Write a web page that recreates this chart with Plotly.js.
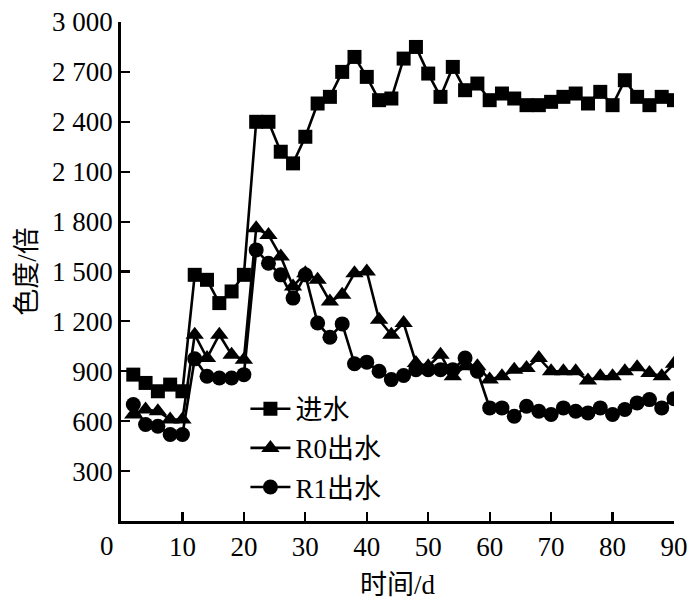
<!DOCTYPE html>
<html>
<head>
<meta charset="utf-8">
<script src="https://cdn.plot.ly/plotly-3.0.1.min.js"></script>
<style>html,body{margin:0;padding:0;background:#fff;}#chart{width:700px;height:601px;}</style>
</head>
<body>
<div id="chart"></div>
<script>
const days = [2,4,6,8,10,12,14,16,18,20,22,24,26,28,30,32,34,36,38,40,42,44,46,48,50,52,54,56,58,60,62,64,66,68,70,72,74,76,78,80,82,84,86,88,90];
const influent = [880,830,780,820,780,1480,1450,1310,1380,1480,2400,2400,2220,2150,2310,2510,2550,2700,2790,2670,2530,2540,2780,2850,2690,2550,2730,2590,2630,2530,2570,2540,2500,2500,2520,2550,2570,2510,2580,2500,2650,2550,2500,2550,2530];
const r0Effluent = [640,670,660,610,610,1120,980,1120,1000,970,1760,1720,1590,1410,1490,1450,1320,1360,1490,1500,1210,1120,1190,950,930,1000,870,930,930,850,870,910,920,980,900,900,900,845,870,870,900,925,890,870,945];
const r1Effluent = [700,580,570,520,520,975,870,860,860,880,1630,1550,1480,1340,1480,1190,1105,1185,945,955,900,850,875,910,910,910,910,980,900,680,680,630,690,660,640,680,660,650,680,640,670,710,730,680,735];
const seriesNames = ['进水','R0出水','R1出水'];
const yTickVals = [300,600,900,1200,1500,1800,2100,2400,2700,3000];
const yTickText = ['300','600','900','1 200','1 500','1 800','2 100','2 400','2 700','3 000'];
const xTickVals = [0,10,20,30,40,50,60,70,80,90];
const xTickText = ['','10','20','30','40','50','60','70','80','90'];

const FONT = 'Liberation Serif, Times New Roman, Noto Sans CJK SC, serif';
const FS = 27;
const lineStyle = {color:'#000', width:2.6};
const traces = [
  {x:days, y:influent, name:seriesNames[0], legendgroup:'a', mode:'lines+markers', line:lineStyle,
   marker:{symbol:'square', size:14, color:'#000'}},
  {x:days, y:r0Effluent, name:seriesNames[1], legendgroup:'b', mode:'lines+markers', line:lineStyle,
   marker:{symbol:'triangle-up', size:16, color:'#000'}},
  {x:days, y:r1Effluent, name:seriesNames[2], legendgroup:'c', mode:'lines+markers', line:lineStyle,
   marker:{symbol:'circle', size:15, color:'#000'}}
];
const layout = {
  width:700, height:601,
  margin:{l:121, r:26, t:22, b:80},
  paper_bgcolor:'#fff', plot_bgcolor:'#fff',
  font:{family:FONT, size:FS, color:'#000'},
  showlegend:true,
  legend:{x:0.225, y:0.273, xanchor:'left', yanchor:'top', bgcolor:'rgba(0,0,0,0)',
          font:{family:FONT, size:FS, color:'#000'}, tracegroupgap:1, itemwidth:40},
  xaxis:{range:[0,90], tickvals:xTickVals, ticktext:xTickText, ticks:'inside', ticklen:9,
         tickwidth:2.2, tickcolor:'#000', showline:true, linecolor:'#000', linewidth:2.8,
         showgrid:false, zeroline:false, tickfont:{family:FONT, size:FS},
         title:{text:'时间/d', font:{family:FONT, size:FS}, standoff:14}},
  yaxis:{range:[0,3000], tickvals:yTickVals, ticktext:yTickText, ticks:'inside', ticklen:9,
         tickwidth:2.2, tickcolor:'#000', showline:true, linecolor:'#000', linewidth:2.8,
         showgrid:false, zeroline:false, tickfont:{family:FONT, size:FS},
         title:{text:'色度/倍', font:{family:FONT, size:FS}, standoff:8}},
  annotations:[{text:'0', xref:'paper', yref:'paper', x:-0.026, y:0, xanchor:'center', yanchor:'top',
                yshift:-8, showarrow:false, font:{family:FONT, size:FS, color:'#000'}}]
};
Plotly.newPlot('chart', traces, layout, {displayModeBar:false, staticPlot:true});
</script>
</body>
</html>
